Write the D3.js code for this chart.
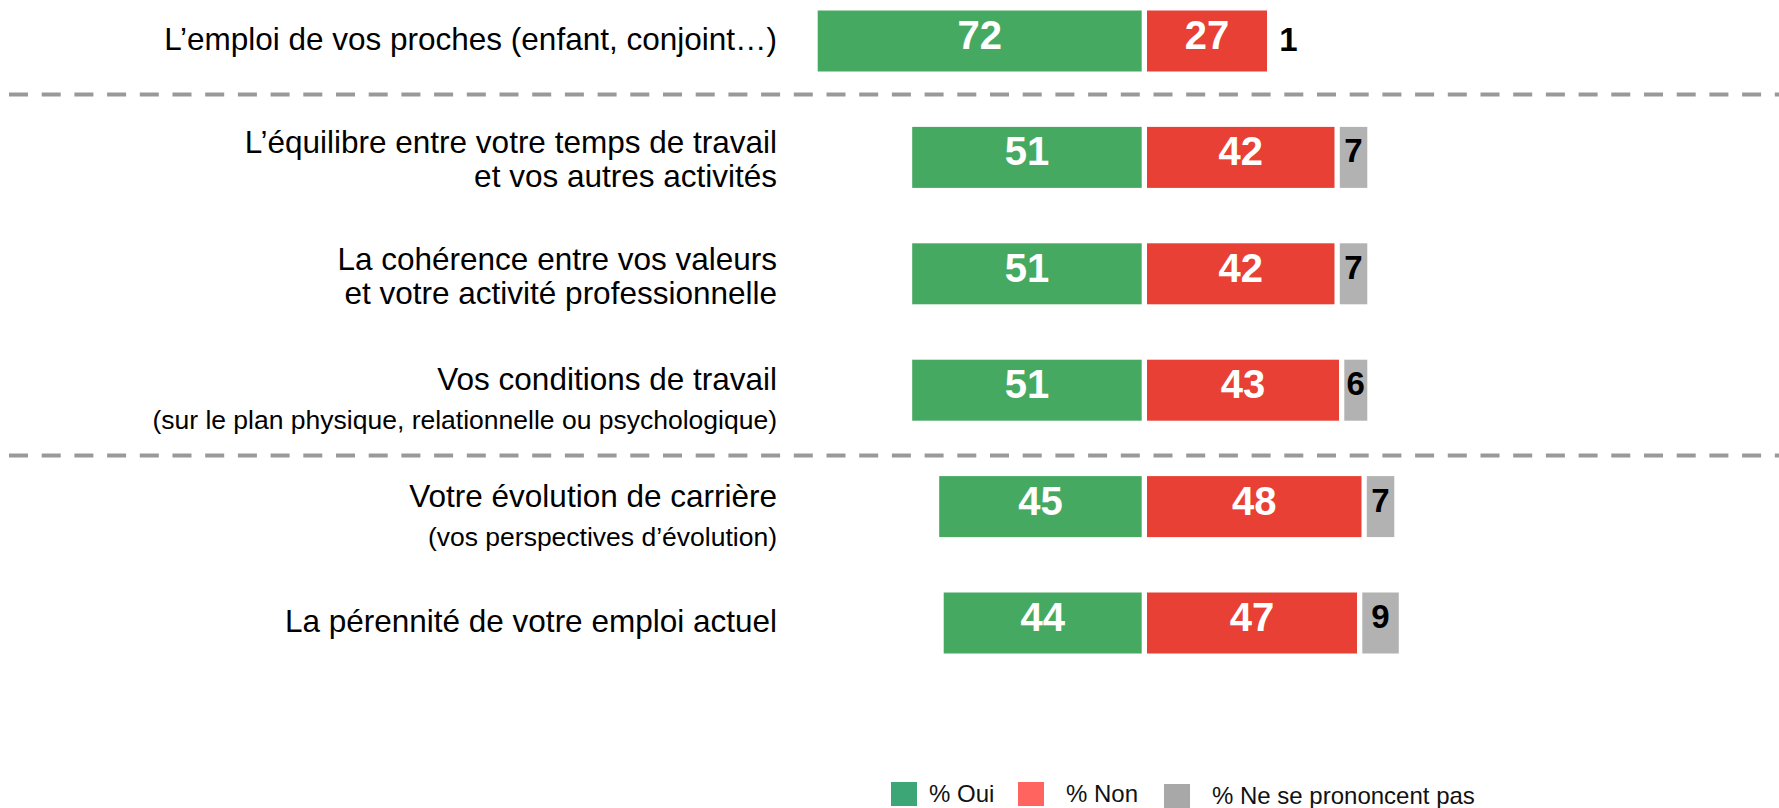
<!DOCTYPE html>
<html>
<head>
<meta charset="utf-8">
<script src="https://cdnjs.cloudflare.com/ajax/libs/d3/7.8.5/d3.min.js"></script>
<style>
  body { margin: 0; background: #fff; }
  text { font-family: "Liberation Sans", Arial, Helvetica, sans-serif; }
</style>
</head>
<body>
<div id="chart"></div>
<script>
// data
const categories = ['proches', 'equilibre', 'coherence', 'conditions', 'carriere', 'perennite'];
const mainLabels = [
    ['L’emploi de vos proches (enfant, conjoint…)'],
    ['L’équilibre entre votre temps de travail', 'et vos autres activités'],
    ['La cohérence entre vos valeurs', 'et votre activité professionnelle'],
    ['Vos conditions de travail'],
    ['Votre évolution de carrière'],
    ['La pérennité de votre emploi actuel']
];
const subLabels = ['', '', '', '(sur le plan physique, relationnelle ou psychologique)', '(vos perspectives d’évolution)', ''];
const oui = [72, 51, 51, 51, 45, 44];
const non = [27, 42, 42, 43, 48, 47];
const nsp = [1, 7, 7, 6, 7, 9];
const separatorsAfter = [0, 3];
const legendLabels = ['% Oui', '% Non', '% Ne se prononcent pas'];

const width = 1779;
const height = 808;
const pivot = 1144.3;      // where oui meets non
const labelRight = 777;
const barH = 61;
const sepFrac = [0.46, 0.56];  // where the dashed line sits between two rows

const colors = { oui: '#46a962', non: '#e84034', nsp: '#b2b2b2' };
const legendColors = ['#3da677', '#ff645e', '#a8a8a8'];

const svg = d3.select('#chart').append('svg')
    .attr('width', width)
    .attr('height', height);

const x = d3.scaleLinear().domain([0, 100]).range([0, 450]);
const y = d3.scalePoint().domain(categories).range([41, 623]);

const rows = categories.map((c, i) => ({
    cat: c, oui: oui[i], non: non[i], nsp: nsp[i],
    lines: mainLabels[i], sub: subLabels[i]
}));

// dashed separators
separatorsAfter.forEach((i, k) => {
    const y0 = y(categories[i]);
    const yy = y0 + (y(categories[i + 1]) - y0) * sepFrac[k];
    svg.append('line')
        .attr('x1', 9).attr('x2', width)
        .attr('y1', yy).attr('y2', yy)
        .attr('stroke', '#999')
        .attr('stroke-width', 4)
        .attr('stroke-dasharray', '19,13.7');
});

const row = svg.selectAll('g.row')
    .data(rows)
    .enter().append('g')
    .attr('class', 'row')
    .attr('transform', d => `translate(0, ${y(d.cat)})`);

// bars
row.append('rect')
    .attr('x', d => pivot - 2.6 - x(d.oui))
    .attr('y', -barH / 2)
    .attr('width', d => x(d.oui))
    .attr('height', barH)
    .attr('fill', colors.oui);

row.append('rect')
    .attr('x', pivot + 2.7)
    .attr('y', -barH / 2)
    .attr('width', d => x(d.non) - 1.5)
    .attr('height', barH)
    .attr('fill', colors.non);

const nspX = d => pivot + 2.7 + x(d.non) - 1.5 + 5.3;
const nspW = d => {
    const w = x(d.nsp) - 4;
    return w < 2 ? 0 : w;
};
row.append('rect')
    .attr('x', nspX)
    .attr('y', -barH / 2)
    .attr('width', nspW)
    .attr('height', barH)
    .attr('fill', colors.nsp);

// values
row.append('text')
    .attr('x', d => pivot - 2.6 - x(d.oui) / 2)
    .attr('y', 8)
    .attr('text-anchor', 'middle')
    .attr('fill', '#fff')
    .attr('font-weight', 'bold')
    .attr('font-size', 40)
    .text(d => d.oui);

row.append('text')
    .attr('x', d => pivot + 2.7 + (x(d.non) - 1.5) / 2)
    .attr('y', 8)
    .attr('text-anchor', 'middle')
    .attr('fill', '#fff')
    .attr('font-weight', 'bold')
    .attr('font-size', 40)
    .text(d => d.non);

row.append('text')
    .attr('x', d => (nspW(d) < 15 ? nspX(d) + 7 : nspX(d) + nspW(d) / 2))
    .attr('y', d => (nspW(d) < 15 ? 10 : 5))
    .attr('text-anchor', d => (nspW(d) < 15 ? 'start' : 'middle'))
    .attr('fill', '#000')
    .attr('font-weight', 'bold')
    .attr('font-size', 33)
    .text(d => d.nsp);

// category labels
row.each(function(d) {
    const g = d3.select(this);
    let baseline;
    if (d.sub) baseline = 0;
    else baseline = d.lines.length === 1 ? 9 : -4;
    d.lines.forEach(l => {
        g.append('text')
            .attr('x', labelRight)
            .attr('y', baseline)
            .attr('text-anchor', 'end')
            .attr('fill', '#000')
            .attr('font-size', 31.5)
            .text(l);
        baseline += 34;
    });
    if (d.sub) {
        g.append('text')
            .attr('x', labelRight)
            .attr('y', baseline + 5)
            .attr('text-anchor', 'end')
            .attr('fill', '#000')
            .attr('font-size', 26.5)
            .text(d.sub);
    }
});

// legend
const legendX = [891, 1018, 1164];
const legend = svg.selectAll('g.legend')
    .data(legendLabels)
    .enter().append('g')
    .attr('class', 'legend')
    .attr('transform', (d, i) => `translate(${legendX[i]}, ${i === 2 ? 784 : 782})`);

legend.append('rect')
    .attr('width', 26)
    .attr('height', 24)
    .attr('fill', (d, i) => legendColors[i]);

legend.append('text')
    .attr('x', (d, i) => (i === 0 ? 38 : 48))
    .attr('y', 19.5)
    .attr('fill', '#111')
    .attr('font-size', 24)
    .text(d => d);
</script>
</body>
</html>
